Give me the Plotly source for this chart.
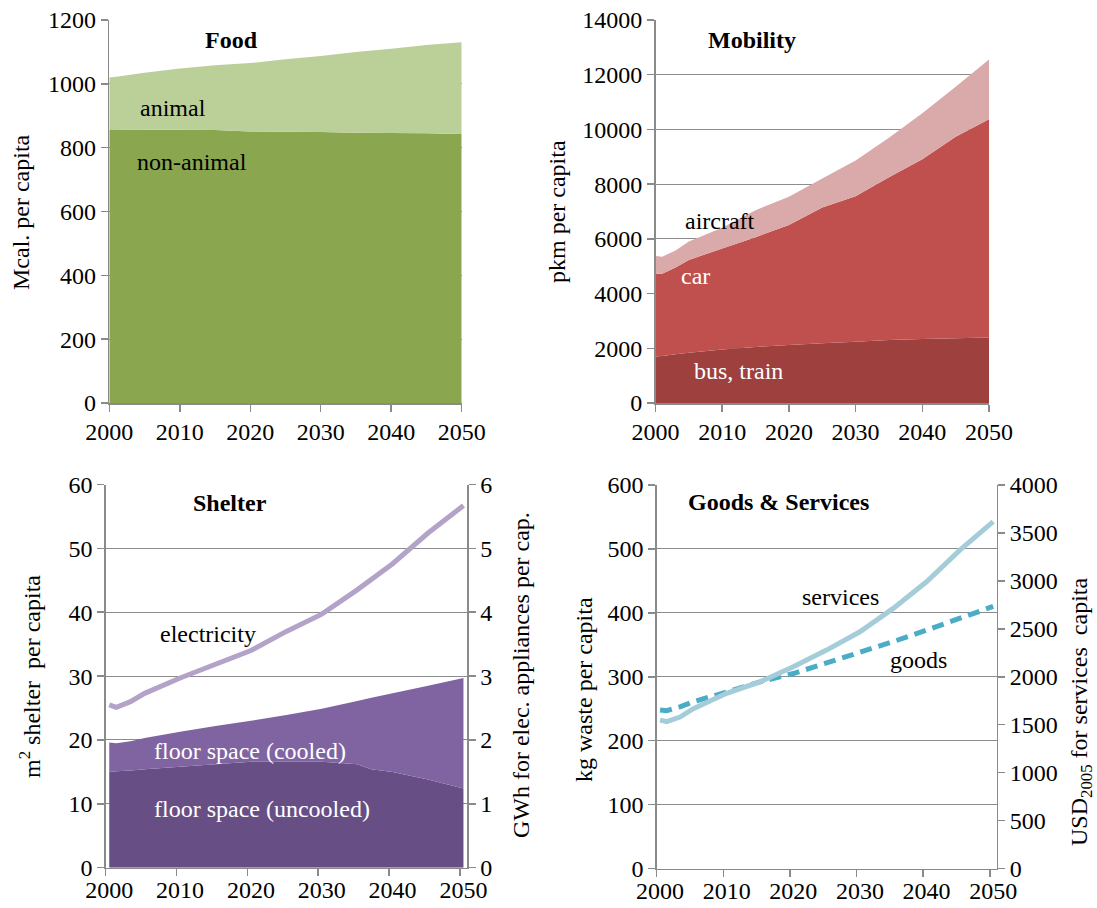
import plotly.graph_objects as go

W, H = 1097, 908

# ---------------- data ----------------
food_years = [2000, 2001, 2005, 2010, 2015, 2020, 2025, 2030, 2035, 2040, 2045, 2050]
food_non_animal = [855, 855, 856, 856, 855, 851, 850, 849, 847, 846, 845, 843]
food_animal = [165, 167, 179, 192, 203, 214, 227, 238, 253, 264, 277, 287]

mob_years = [2000, 2001, 2003, 2005, 2010, 2015, 2020, 2025, 2030, 2035, 2040, 2045, 2050]
mob_bus_train = [1700, 1720, 1780, 1840, 1960, 2050, 2120, 2180, 2240, 2300, 2340, 2370, 2390]
mob_car = [3020, 3000, 3170, 3390, 3690, 4010, 4390, 4970, 5320, 5950, 6570, 7360, 7980]
mob_aircraft = [650, 630, 620, 670, 760, 990, 1030, 1060, 1300, 1450, 1680, 1830, 2190]

shel_years = [2000, 2001, 2003, 2005, 2010, 2015, 2020, 2025, 2030, 2035, 2037, 2040, 2045, 2050]
shel_uncooled = [15.0, 15.1, 15.2, 15.4, 15.8, 16.2, 16.6, 16.6, 16.6, 16.2, 15.4, 15.0, 13.8, 12.4]
shel_cooled = [4.6, 4.4, 4.6, 4.9, 5.5, 6.0, 6.4, 7.3, 8.3, 9.9, 11.2, 12.3, 14.7, 17.3]
shel_electricity = [2.55, 2.51, 2.60, 2.73, 2.97, 3.19, 3.40, 3.70, 3.97, 4.35, 4.52, 4.76, 5.24, 5.67]

gs_years = [2000, 2001, 2003, 2005, 2010, 2015, 2020, 2025, 2030, 2035, 2040, 2045, 2050]
gs_goods_waste = [248, 247, 253, 261, 276, 292, 305, 321, 337, 355, 373, 391, 410]
gs_services_usd = [1547, 1531, 1580, 1667, 1827, 1947, 2104, 2278, 2469, 2713, 2991, 3320, 3617]

decade_ticks = [2000, 2010, 2020, 2030, 2040, 2050]
boundary_ticks = [1999.5, 2009.5, 2019.5, 2029.5, 2039.5, 2049.5]

# ---------------- style ----------------
FONT = "'Liberation Serif', 'Times New Roman', Times, serif"
FS = 24
GRID = "#8c8c8c"
AX = "#8a8a8a"

C_NONANIMAL = "#8aa64f"
C_ANIMAL = "#bbcf98"
C_BUS = "#9d403e"
C_CAR = "#c0504d"
C_AIR = "#d9aaa9"
C_UNCOOLED = "#674f86"
C_COOLED = "#8064a2"
C_ELEC = "#b3a3c8"
C_SERV = "#a5cdd9"
C_GOODS = "#4bacc6"


def px(x):
    return x / W


def py(y):
    return 1 - y / H


fig = go.Figure()

# Food
fig.add_trace(go.Scatter(x=food_years, y=food_non_animal, stackgroup="food", mode="none",
                         fillcolor=C_NONANIMAL, name="non-animal", xaxis="x", yaxis="y"))
fig.add_trace(go.Scatter(x=food_years, y=food_animal, stackgroup="food", mode="none",
                         fillcolor=C_ANIMAL, name="animal", xaxis="x", yaxis="y"))

# Mobility
fig.add_trace(go.Scatter(x=mob_years, y=mob_bus_train, stackgroup="mob", mode="none",
                         fillcolor=C_BUS, name="bus, train", xaxis="x2", yaxis="y2"))
fig.add_trace(go.Scatter(x=mob_years, y=mob_car, stackgroup="mob", mode="none",
                         fillcolor=C_CAR, name="car", xaxis="x2", yaxis="y2"))
fig.add_trace(go.Scatter(x=mob_years, y=mob_aircraft, stackgroup="mob", mode="none",
                         fillcolor=C_AIR, name="aircraft", xaxis="x2", yaxis="y2"))

# Shelter
fig.add_trace(go.Scatter(x=shel_years, y=shel_uncooled, stackgroup="shel", mode="none",
                         fillcolor=C_UNCOOLED, name="floor space (uncooled)", xaxis="x3", yaxis="y3"))
fig.add_trace(go.Scatter(x=shel_years, y=shel_cooled, stackgroup="shel", mode="none",
                         fillcolor=C_COOLED, name="floor space (cooled)", xaxis="x3", yaxis="y3"))
fig.add_trace(go.Scatter(x=shel_years, y=shel_electricity, mode="lines",
                         line=dict(color=C_ELEC, width=5), name="electricity", xaxis="x3", yaxis="y4"))

# Goods & Services
fig.add_trace(go.Scatter(x=gs_years, y=gs_services_usd, mode="lines",
                         line=dict(color=C_SERV, width=5), name="services", xaxis="x4", yaxis="y6"))
fig.add_trace(go.Scatter(x=gs_years, y=gs_goods_waste, mode="lines",
                         line=dict(color=C_GOODS, width=5, dash="12px,7px"), name="goods",
                         xaxis="x4", yaxis="y5"))

tickfont = dict(family=FONT, size=FS, color="black")


def yax(domain, rng, dtick, anchor, **kw):
    d = dict(domain=domain, range=rng, dtick=dtick, tick0=0, anchor=anchor,
             tickmode="linear", tickformat="d",
             showgrid=True, gridcolor=GRID, gridwidth=1,
             showline=True, linecolor=AX, linewidth=1.5,
             ticks="outside", ticklen=7, tickcolor=AX, tickwidth=1.5,
             tickfont=dict(tickfont), zeroline=False, fixedrange=True, automargin=False)
    d.update(kw)
    return d


def xax_plain(domain, anchor):
    return dict(domain=domain, range=[2000, 2050], tickmode="array", tickvals=decade_ticks,
                tickformat="d",
                showgrid=False, showline=True, linecolor=AX, linewidth=1.5,
                ticks="outside", ticklen=7, tickcolor=AX, tickwidth=1.5,
                tickfont=dict(tickfont), zeroline=False, anchor=anchor, fixedrange=True,
                automargin=False)


def xax_cat(domain, anchor):
    return dict(domain=domain, range=[1999.5, 2050.5], tickmode="array", tickvals=decade_ticks,
                tickformat="d",
                showgrid=False, showline=True, linecolor=AX, linewidth=1.5,
                ticks="", tickfont=dict(tickfont), zeroline=False, anchor=anchor, fixedrange=True,
                automargin=False,
                minor=dict(tickmode="array", tickvals=boundary_ticks, ticks="outside",
                           ticklen=7, tickcolor=AX, tickwidth=1.5, showgrid=False))


top_dom = [py(403), py(20)]
bot_dom_s = [py(867.7), py(484.5)]
bot_dom_g = [py(868.5), py(485)]

fig.update_layout(
    template="none",
    width=W, height=H,
    margin=dict(l=0, r=0, t=0, b=0, pad=0, autoexpand=False),
    paper_bgcolor="white", plot_bgcolor="white",
    showlegend=False,
    font=dict(family=FONT, size=FS, color="black"),
    xaxis=xax_plain([px(109.3), px(461.7)], "y"),
    yaxis=yax(top_dom, [0, 1200], 200, "x"),
    xaxis2=xax_plain([px(655.5), px(989)], "y2"),
    yaxis2=yax(top_dom, [0, 14000], 2000, "x2"),
    xaxis3=xax_cat([px(105.7), px(467)], "y3"),
    yaxis3=yax(bot_dom_s, [0, 60], 10, "x3"),
    yaxis4=yax(bot_dom_s, [0, 6], 1, "x3", overlaying="y3", side="right", showgrid=False),
    xaxis4=xax_cat([px(656.7), px(996.5)], "y5"),
    yaxis5=yax(bot_dom_g, [0, 600], 100, "x4"),
    yaxis6=yax(bot_dom_g, [0, 4000], 500, "x4", overlaying="y5", side="right", showgrid=False),
)

ann = []


def txt(x, y, s, color="black", bold=False, angle=0):
    if bold:
        s = "<b>" + s + "</b>"
    ann.append(dict(x=px(x), y=py(y), xref="paper", yref="paper", text=s, showarrow=False,
                    xanchor="center", yanchor="middle", textangle=angle,
                    font=dict(family=FONT, size=FS, color=color)))


# panel titles
txt(231, 40, "Food", bold=True)
txt(752, 40, "Mobility", bold=True)
txt(230, 503, "Shelter", bold=True)
txt(778, 502, "Goods &amp; Services", bold=True)

# series labels
txt(173, 108, "animal")
txt(192, 162, "non-animal")
txt(720, 221, "aircraft")
txt(695, 276, "car", color="white")
txt(738, 371, "bus, train", color="white")
txt(208, 634, "electricity")
txt(250, 751, "floor space (cooled)", color="white")
txt(262, 809, "floor space (uncooled)", color="white")
txt(840, 597, "services")
txt(918, 660, "goods")

# axis titles
txt(21, 212, "Mcal. per capita", angle=-90)
txt(557, 212, "pkm per capita", angle=-90)
txt(30, 677, "m<sup>2</sup> shelter\u00a0 per capita", angle=-90)
txt(521, 675, "GWh for elec. appliances per cap.", angle=-90)
txt(584, 690, "kg waste per capita", angle=-90)
txt(1081, 712, "USD<sub>2005</sub> for services\u00a0 capita", angle=-90)

fig.update_layout(annotations=ann)

fig.write_html("out.html", config={"displayModeBar": False, "staticPlot": True},
               post_script="document.body.style.margin='0';document.body.style.overflow='hidden';")
